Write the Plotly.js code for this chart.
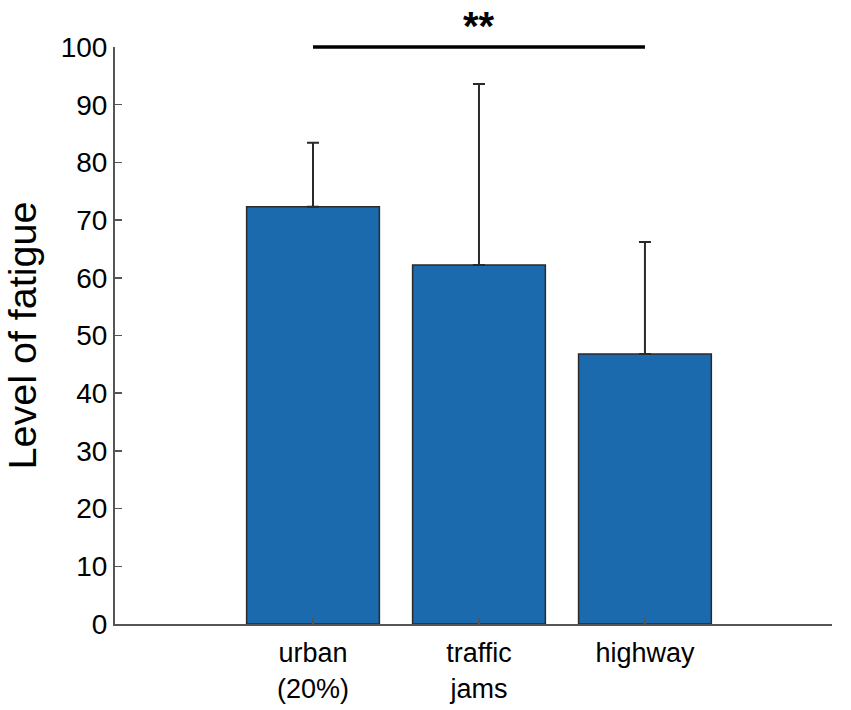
<!DOCTYPE html>
<html>
<head>
<meta charset="utf-8">
<script src="https://cdn.plot.ly/plotly-3.0.1.min.js"></script>
<style>html,body{margin:0;padding:0;background:#fff;}#chart{width:851px;height:710px;}</style>
</head>
<body>
<div id="chart"></div>
<script>
var categories = ["urban<br>(20%)", "traffic<br>jams", "highway"];
var fatigue = [72.3, 62.2, 46.8];
var errorPlus = [11.1, 31.4, 19.4];
var yTicks = [0, 10, 20, 30, 40, 50, 60, 70, 80, 90, 100];
var sigLabel = "**";

var xPos = categories.map(function (c, i) { return i; });

var trace = {
  type: "bar",
  x: xPos,
  y: fatigue,
  width: 0.8,
  marker: { color: "#1b6aae", line: { color: "#2a2a2a", width: 1.5 } },
  error_y: {
    type: "data",
    symmetric: false,
    array: errorPlus,
    arrayminus: fatigue.map(function () { return 0; }),
    color: "#2a2a2a",
    thickness: 2,
    width: 6
  },
  hoverinfo: "none"
};

var layout = {
  width: 851,
  height: 710,
  margin: { l: 115, r: 19, t: 47, b: 86 },
  paper_bgcolor: "#ffffff",
  plot_bgcolor: "#ffffff",
  showlegend: false,
  font: { family: "Liberation Sans, Arial, sans-serif", color: "#000000" },
  xaxis: {
    range: [-1.193, 3.127],
    tickvals: xPos,
    ticktext: categories,
    ticks: "inside",
    ticklen: 6,
    tickcolor: "#555555",
    tickwidth: 1.5,
    showline: true,
    linecolor: "#555555",
    linewidth: 2,
    showgrid: false,
    zeroline: false,
    ticklabelstandoff: 4,
    tickfont: { family: "Liberation Sans, Arial, sans-serif", size: 27, color: "#000000" }
  },
  yaxis: {
    range: [0, 100],
    tickvals: yTicks,
    ticks: "inside",
    ticklen: 7,
    tickcolor: "#555555",
    tickwidth: 1.5,
    showline: true,
    linecolor: "#555555",
    linewidth: 2,
    showgrid: false,
    zeroline: false,
    tickfont: { family: "Liberation Sans, Arial, sans-serif", size: 28, color: "#000000" },
    title: { text: "Level of fatigue", font: { family: "Liberation Sans, Arial, sans-serif", size: 39.5, color: "#000000" }, standoff: 22 }
  },
  shapes: [{
    type: "line",
    xref: "x", yref: "paper",
    x0: xPos[0], x1: xPos[2], y0: 1, y1: 1,
    line: { color: "#000000", width: 3.5 }
  }],
  annotations: [{
    xref: "x", yref: "y",
    x: xPos[1], y: 100,
    text: "<b>" + sigLabel + "</b>",
    showarrow: false,
    yanchor: "bottom",
    yshift: -2.5,
    font: { family: "Liberation Sans, Arial, sans-serif", size: 40, color: "#000000" }
  }]
};

Plotly.newPlot("chart", [trace], layout, { displayModeBar: false, staticPlot: true });
</script>
</body>
</html>
